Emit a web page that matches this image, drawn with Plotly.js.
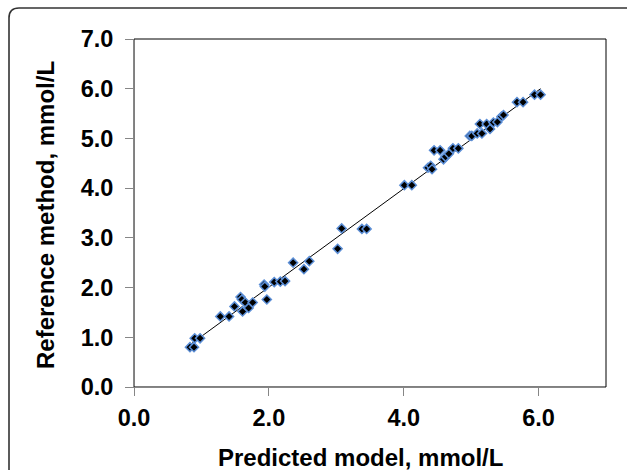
<!DOCTYPE html>
<html>
<head>
<meta charset="utf-8">
<script src="https://cdn.plot.ly/plotly-3.0.1.min.js"></script>
<style>
html,body{margin:0;padding:0;background:#fff;}
#chart{width:627px;height:470px;}
</style>
</head>
<body>
<div id="chart"></div>
<script>
// Predicted model (x) vs reference method (y), mmol/L
const predicted = [0.83, 0.89, 0.90, 0.98, 1.28, 1.41, 1.49, 1.58, 1.60, 1.61, 1.65, 1.70, 1.76,
  1.93, 1.94, 1.97, 2.08, 2.17, 2.24, 2.36, 2.52, 2.60, 3.02, 3.08, 3.38, 3.45,
  4.01, 4.12, 4.36, 4.40, 4.42, 4.45, 4.54, 4.59, 4.62, 4.67, 4.73, 4.81,
  4.98, 5.01, 5.09, 5.13, 5.16, 5.23, 5.28, 5.33, 5.39, 5.45, 5.48, 5.68, 5.77, 5.94, 6.03];
const reference = [0.80, 0.80, 0.98, 0.98, 1.42, 1.42, 1.62, 1.81, 1.76, 1.52, 1.70, 1.59, 1.70,
  2.06, 2.02, 1.76, 2.11, 2.12, 2.13, 2.50, 2.37, 2.53, 2.78, 3.19, 3.18, 3.18,
  4.06, 4.06, 4.41, 4.45, 4.38, 4.76, 4.76, 4.58, 4.63, 4.69, 4.80, 4.80,
  5.05, 5.05, 5.10, 5.29, 5.10, 5.29, 5.19, 5.32, 5.33, 5.44, 5.47, 5.73, 5.73, 5.88, 5.88];
const trendX = [0.83, 6.03];
const trendY = [0.85, 6.00];
const xTickVals = [0, 2, 4, 6];
const xTickText = ['0.0', '2.0', '4.0', '6.0'];
const yTickVals = [0, 1, 2, 3, 4, 5, 6, 7];
const yTickText = ['0.0', '1.0', '2.0', '3.0', '4.0', '5.0', '6.0', '7.0'];
const xTitle = 'Predicted model, mmol/L';
const yTitle = 'Reference method, mmol/L';

const font = 'Liberation Sans, Arial, sans-serif';

const traces = [
  {
    x: trendX, y: trendY, type: 'scatter', mode: 'lines',
    line: {color: '#000', width: 1}, hoverinfo: 'skip', showlegend: false
  },
  {
    x: predicted, y: reference, type: 'scatter', mode: 'markers',
    marker: {symbol: 'diamond', size: 7, color: '#000', line: {color: '#5b8ed6', width: 1.5}},
    showlegend: false
  }
];

const L = 134, T = 39, W = 472, H = 348;
const px = v => (v - L) / W;
const py = v => ((T + H) - v) / H;
const fx = px(9), fy = py(8), rx = 10 / W, ry = 10 / H;

const tickFont = {family: font, size: 23.5, color: '#000', weight: 'bold'};
const titleFont = {family: font, size: 24, color: '#000', weight: 'bold'};

const layout = {
  width: 627, height: 470,
  margin: {l: 134, r: 21, t: 39, b: 83},
  paper_bgcolor: '#fff', plot_bgcolor: '#fff',
  font: {family: font, color: '#000'},
  xaxis: {
    range: [0, 7], tickvals: xTickVals, ticktext: xTickText,
    showgrid: false, zeroline: false,
    showline: true, linecolor: '#868686', linewidth: 1,
    ticks: 'outside', ticklen: 8, tickcolor: '#868686', tickwidth: 1,
    tickfont: tickFont, ticklabelstandoff: 2
  },
  yaxis: {
    range: [0, 7], tickvals: yTickVals, ticktext: yTickText,
    showgrid: false, zeroline: false,
    showline: true, linecolor: '#868686', linewidth: 1,
    ticks: 'outside', ticklen: 8, tickcolor: '#868686', tickwidth: 1,
    tickfont: tickFont, ticklabelstandoff: 7
  },
  annotations: [
    {text: xTitle, xref: 'paper', yref: 'paper', x: px(360), y: py(457),
     xanchor: 'center', yanchor: 'middle', showarrow: false, font: titleFont},
    {text: yTitle, xref: 'paper', yref: 'paper', x: px(45), y: py(215),
     xanchor: 'center', yanchor: 'middle', showarrow: false, textangle: -90, font: titleFont}
  ],
  shapes: [
    {type: 'rect', xref: 'paper', yref: 'paper', x0: 0, x1: 1, y0: 0, y1: 1,
     line: {color: '#000', width: 1}, layer: 'below'},
    {type: 'path', xref: 'paper', yref: 'paper',
     path: `M ${fx},${py(490)} L ${fx},${fy - ry} Q ${fx},${fy} ${fx + rx},${fy} L ${px(650)},${fy}`,
     line: {color: '#333', width: 1.6}}
  ]
};

Plotly.newPlot('chart', traces, layout, {displayModeBar: false, staticPlot: true});
</script>
</body>
</html>
